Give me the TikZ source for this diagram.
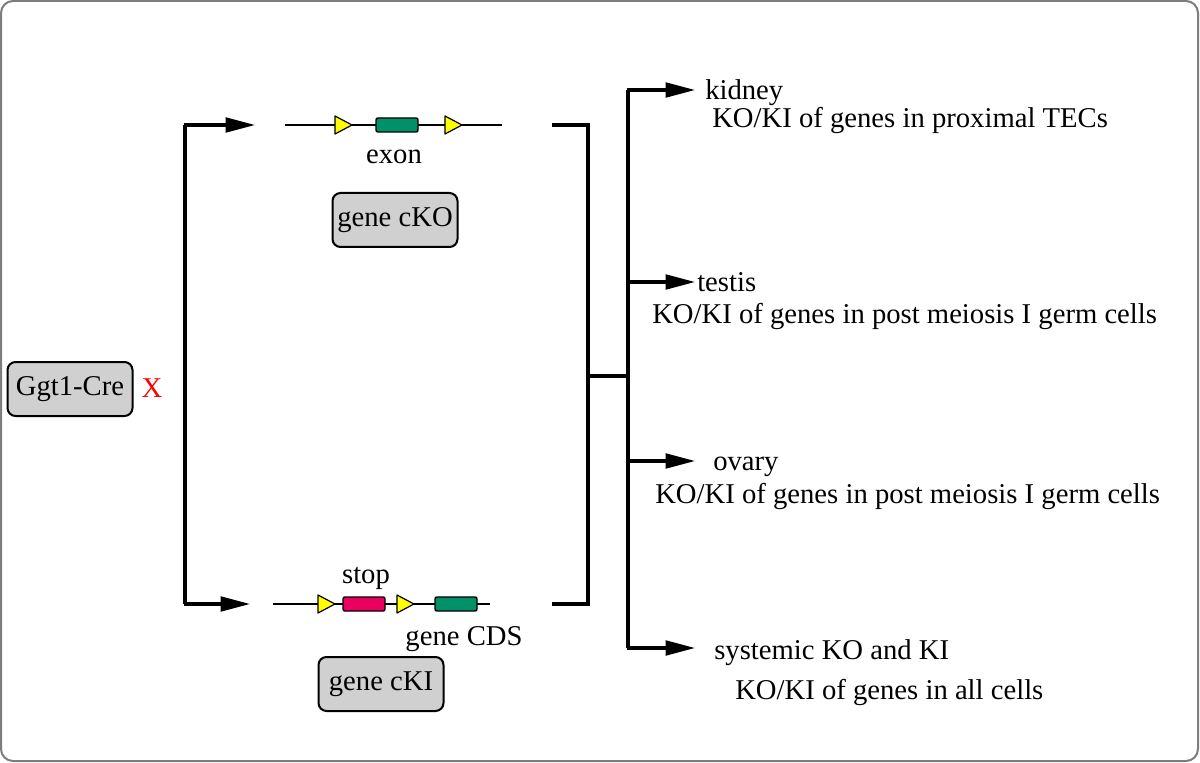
\documentclass[tikz,border=0pt]{standalone}
\usepackage{fontspec}
\setmainfont{Liberation Serif}
\usetikzlibrary{arrows.meta,positioning}

\begin{document}
\begin{tikzpicture}[x=0.75pt, y=-0.75pt,
    every node/.style={font=\fontsize{21.5pt}{26pt}\selectfont},
    mousebox/.style={draw, line width=1.5pt, fill=boxgray, rounded corners=6pt,
      minimum width=93.75pt, minimum height=40.5pt, inner xsep=2pt},
    label/.style={inner sep=0pt, text height=0.7em, text depth=0.22em, anchor=west},
    tag/.style={inner sep=0pt, text height=0.7em, text depth=0.22em},
    element/.style={draw, line width=1.1pt, rounded corners=1.5pt,
      minimum width=31.5pt, minimum height=10.5pt, inner sep=0pt},
    bracket/.style={line width=2.3pt},
    branch/.style={line width=2.3pt, -{Triangle[length=22pt, width=11pt]}},
    dna/.style={line width=1.1pt},
    loxp/.pic={\filldraw[fill=loxyellow, line width=0.9pt, line join=round]
      (0,-9) -- (17,0) -- (0,9) -- cycle;}]
  % Colours
  \definecolor{boxgray}{RGB}{208,208,208}
  \definecolor{framegray}{RGB}{125,125,125}
  \definecolor{exongreen}{RGB}{0,145,105}
  \definecolor{stoppink}{RGB}{235,0,95}
  \definecolor{loxyellow}{RGB}{255,255,0}

  \useasboundingbox (0,0) rectangle (1200,763);
  \draw[framegray, line width=1.5pt, rounded corners=9pt] (1,1) rectangle (1198,761);

  % Cre line
  \node[mousebox] (cre) at (70,389) {Ggt1-Cre};
  \node[tag, text=red] (cross) at (152,394) {X};

  % Fork to the two floxed lines
  \coordinate (forktop) at (185,125);
  \coordinate (forkbot) at (185,604);
  \coordinate (ckoin) at (255,125);
  \coordinate (ckiin) at (250,604);
  \draw[bracket] (forktop) -- (forkbot);
  \draw[branch] ([xshift=-1.1pt]forktop) -- (ckoin);
  \draw[branch] ([xshift=-1.1pt]forkbot) -- (ckiin);

  % cKO allele
  \coordinate (ckoL) at (285,125);
  \coordinate (ckoR) at (502,125);
  \draw[dna] (ckoL) -- (ckoR);
  \pic at (335,125) {loxp};
  \node[element, fill=exongreen] (exon) at (397,125) {};
  \pic at (445,125) {loxp};
  \node[tag] (exonlab) at (394,160) {exon};
  \node[mousebox] (cko) at (395,220) {gene cKO};

  % cKI allele
  \coordinate (ckiL) at (273,604);
  \coordinate (ckiR) at (490,604);
  \draw[dna] (ckiL) -- (ckiR);
  \pic at (318,604) {loxp};
  \node[element, fill=stoppink] (stop) at (364,604) {};
  \pic at (397,604) {loxp};
  \node[element, fill=exongreen] (cds) at (456,604) {};
  \node[tag] (stoplab) at (366,580) {stop};
  \node[tag] (cdslab) at (464,642) {gene CDS};
  \node[mousebox] (cki) at (381,684) {gene cKI};

  % Offspring bracket
  \coordinate (brtop) at (552,125);
  \coordinate (brbot) at (552,604);
  \coordinate (brmid) at (588,376);
  \coordinate (spine) at (628,376);
  \draw[bracket] (brtop) -| (588,604) -- (brbot);
  \draw[bracket] (brmid) -- (spine);
  \draw[bracket] (628,90) -- (628,648);

  % Tissues
  \coordinate (kidneytip) at (695,90);
  \coordinate (testistip) at (695,282);
  \coordinate (ovarytip) at (695,461);
  \coordinate (alltip) at (695,648);
  \draw[branch] (627,90) -- (kidneytip);
  \draw[branch] (628,282) -- (testistip);
  \draw[branch] (628,461) -- (ovarytip);
  \draw[branch] (627,648) -- (alltip);

  \node[label] (kidney) at (705,96) {kidney};
  \node[label] (kidneyfx) at (712,124) {KO/KI of genes in proximal TECs};
  \node[label] (testis) at (697,288) {testis};
  \node[label] (testisfx) at (652,320) {KO/KI of genes in post meiosis I germ cells};
  \node[label] (ovary) at (713,467) {ovary};
  \node[label] (ovaryfx) at (655,500) {KO/KI of genes in post meiosis I germ cells};
  \node[label] (systemic) at (714,656) {systemic KO and KI};
  \node[label] (systemicfx) at (735,696) {KO/KI of genes in all cells};
\end{tikzpicture}
\end{document}
